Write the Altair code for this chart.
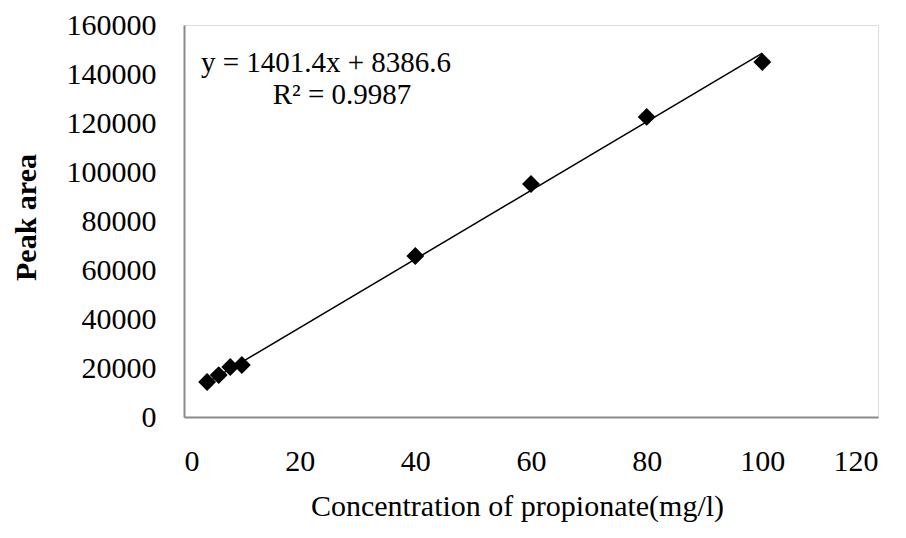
import altair as alt
import pandas as pd

# Data
concentration = [4, 6, 8, 10, 40, 60, 80, 100]
peak_area = [14300, 17100, 20400, 21200, 65700, 95100, 122500, 144900]

# Trendline as reported on the chart
slope = [1401.4]
intercept = [8386.6]
r_squared = [0.9987]

x_ticks = [0, 20, 40, 60, 80, 100, 120]
y_ticks = [0, 20000, 40000, 60000, 80000, 100000, 120000, 140000, 160000]

points = pd.DataFrame({"x": concentration, "y": peak_area})
x_line = [min(concentration), max(concentration)]
trend = pd.DataFrame({"x": x_line, "y": [slope[0] * v + intercept[0] for v in x_line]})
labels = pd.DataFrame({
    "text": [f"y = {slope[0]}x + {intercept[0]}", f"R\u00b2 = {r_squared[0]}"],
    "row": [0, 1],
})

FONT = "Liberation Serif"
FS = 30
EQ_FS = 29

x_scale = alt.Scale(domain=[0, 120], nice=False, zero=True)
y_scale = alt.Scale(domain=[0, 160000], nice=False, zero=True)

x_axis = alt.Axis(
    values=x_ticks, title="Concentration of propionate(mg/l)", grid=False,
    ticks=False, labelPadding=29, labelFontSize=FS, labelFont=FONT,
    labelColor="black", titleFont=FONT, titleFontSize=FS, titleFontWeight="normal",
    titleColor="black", titleX=333, titleY=89, titleBaseline="middle",
    titleAlign="center", domainColor="#8a8a8a", domainWidth=2, format="d",
)
y_axis = alt.Axis(
    values=y_ticks, title="Peak area", grid=False, ticks=False, labelPadding=28,
    labelFontSize=FS, labelFont=FONT, labelColor="black", titleFont=FONT,
    titleFontSize=FS, titleFontWeight="bold", titleColor="black", titleX=-158,
    titleY=192, titleAngle=270, titleBaseline="middle", titleAlign="center",
    domainColor="#8a8a8a", domainWidth=2, format="d",
)

line = alt.Chart(trend).mark_line(color="black", strokeWidth=1.5).encode(
    x=alt.X("x:Q", scale=x_scale, axis=x_axis),
    y=alt.Y("y:Q", scale=y_scale, axis=y_axis),
)

pts = alt.Chart(points).mark_point(
    shape="diamond", filled=True, color="black", size=320, opacity=1
).encode(
    x=alt.X("x:Q", scale=x_scale),
    y=alt.Y("y:Q", scale=y_scale),
)

eq1 = alt.Chart(labels).transform_filter("datum.row == 0").mark_text(
    font=FONT, fontSize=EQ_FS, color="black", align="center", baseline="middle"
).encode(x=alt.value(142), y=alt.value(38), text="text:N")
eq2 = alt.Chart(labels).transform_filter("datum.row == 1").mark_text(
    font=FONT, fontSize=EQ_FS, color="black", align="center", baseline="middle"
).encode(x=alt.value(158), y=alt.value(70), text="text:N")

chart = alt.layer(line, pts, eq1, eq2).properties(
    width=694, height=392,
    autosize=alt.AutoSizeParams(type="none"),
    padding={"left": 176, "top": 17, "right": 20, "bottom": 105},
).configure_view(stroke="black", strokeWidth=1.5).configure(background="white")

chart.save("out.html", embed_options={"renderer": "svg", "actions": False})
